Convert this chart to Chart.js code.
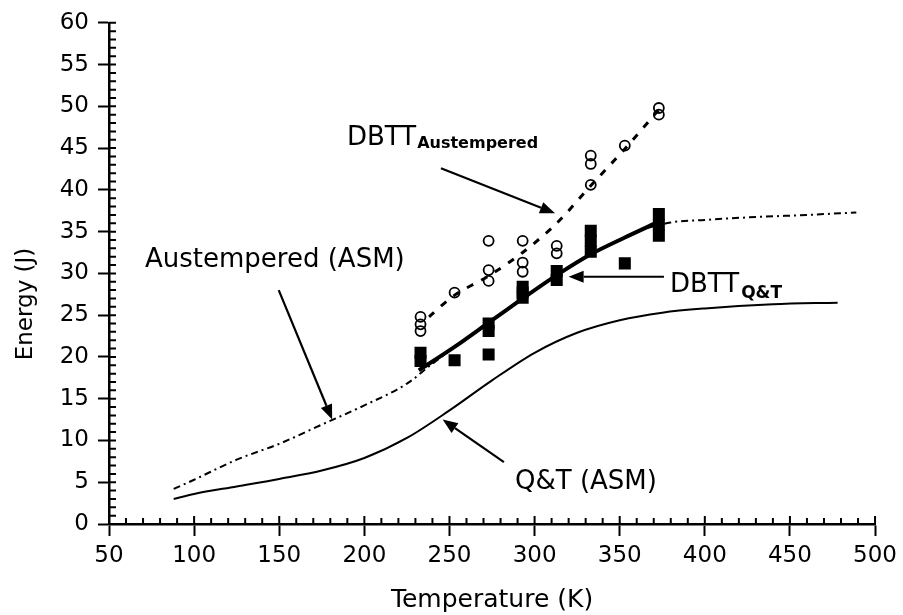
<!DOCTYPE html>
<html>
<head>
<meta charset="utf-8">
<script src="https://cdn.jsdelivr.net/npm/chart.js@4.4.1/dist/chart.umd.min.js"></script>
<style>
  html, body { margin: 0; padding: 0; background: #fff; }
  #wrap { width: 903px; height: 615px; }
</style>
</head>
<body>
<div id="wrap"><canvas id="chart" width="903" height="615"></canvas></div>
<script>
/* ===== Data ===== */
var qtAsmT = [88, 100, 125, 150, 175, 200, 225, 250, 275, 300, 325, 350, 375, 400, 440, 478];
var qtAsmE = [3.0, 3.6, 4.5, 5.4, 6.4, 7.9, 10.3, 13.6, 17.2, 20.5, 22.9, 24.4, 25.3, 25.8, 26.3, 26.5];

var austAsmT = [88, 100, 125, 150, 175, 200, 225, 240, 260, 280, 300, 320, 340, 360, 380, 400, 425, 460, 489];
var austAsmE = [4.2, 5.3, 7.7, 9.6, 11.9, 14.2, 16.8, 19.2, 22.2, 25.1, 28.0, 30.7, 33.0, 35.0, 36.1, 36.4, 36.7, 37.0, 37.3];

var dbttQtT = [232, 253, 273, 293, 313, 333, 353, 373];
var dbttQtE = [18.4, 21.2, 24.1, 27.0, 29.8, 32.3, 34.3, 36.2];

var dbttAustT = [238, 253, 273, 293, 313, 333, 353, 373];
var dbttAustE = [24.8, 27.4, 29.7, 32.5, 36.0, 40.5, 44.9, 49.6];

// austempered specimens (open circles)
var circleT = [233, 233, 233, 253, 273, 273, 273, 293, 293, 293, 313, 313, 333, 333, 333, 353, 373, 373];
var circleE = [24.8, 23.9, 23.1, 27.7, 33.9, 30.4, 29.1, 33.9, 31.3, 30.2, 33.3, 32.4, 44.1, 43.1, 40.6, 45.3, 49.8, 49.0];

// Q&T specimens (filled squares)
var squareT = [233, 233, 253, 273, 273, 273, 293, 293, 293, 313, 313, 333, 333, 333, 353, 373, 373, 373];
var squareE = [20.5, 19.5, 19.6, 24.0, 23.1, 20.3, 28.4, 27.7, 27.1, 30.3, 29.2, 35.1, 33.9, 32.6, 31.2, 37.1, 35.8, 34.5];

var xTitle = 'Temperature (K)';
var yTitle = 'Energy (J)';

var FONT = "'DejaVu Sans', Verdana, sans-serif";

function pts(t, e) {
    return t.map(function (v, i) { return { x: v, y: e[i] }; });
}

/* ===== Extra axis ticks, arrows and labels ===== */
var decorPlugin = {
    id: 'decor',
    afterDraw: function (chart) {
        var ctx = chart.ctx;
        var sx = chart.scales.x, sy = chart.scales.y;
        var t, e, px, py;

        ctx.save();
        ctx.strokeStyle = '#000';
        ctx.fillStyle = '#000';
        ctx.lineWidth = 2;

        // inner tick marks (minor every 10 K / 1 J, majors cross the axis)
        ctx.beginPath();
        for (t = 50; t <= 500; t += 10) {
            px = sx.getPixelForValue(t);
            ctx.moveTo(px, sy.bottom);
            ctx.lineTo(px, sy.bottom - (t % 50 === 0 ? 8 : 6));
        }
        for (e = 0; e <= 60; e += 1) {
            py = sy.getPixelForValue(e);
            ctx.moveTo(sx.left, py);
            ctx.lineTo(sx.left + 7, py);
        }
        ctx.stroke();

        // arrows: [fromT, fromE, toT, toE]
        var arrows = [
            [149.7, 28.0, 181.1, 12.5],
            [245.0, 42.6, 312.0, 37.2],
            [376.0, 29.6, 320.0, 29.6],
            [282.0, 7.4, 246.0, 12.5]
        ];
        arrows.forEach(function (a) {
            var x0 = sx.getPixelForValue(a[0]), y0 = sy.getPixelForValue(a[1]);
            var x1 = sx.getPixelForValue(a[2]), y1 = sy.getPixelForValue(a[3]);
            var ang = Math.atan2(y1 - y0, x1 - x0);
            var len = 15, hw = 6;
            var bx = x1 - len * Math.cos(ang), by = y1 - len * Math.sin(ang);
            ctx.beginPath();
            ctx.moveTo(x0, y0);
            ctx.lineTo(bx, by);
            ctx.lineWidth = 2.2;
            ctx.stroke();
            ctx.beginPath();
            ctx.moveTo(x1, y1);
            ctx.lineTo(bx + hw * Math.sin(ang), by - hw * Math.cos(ang));
            ctx.lineTo(bx - hw * Math.sin(ang), by + hw * Math.cos(ang));
            ctx.closePath();
            ctx.fill();
        });

        // annotation labels
        ctx.textBaseline = 'alphabetic';
        ctx.textAlign = 'left';
        ctx.font = '26px ' + FONT;
        ctx.fillText('DBTT', 347, 145);
        var w1 = ctx.measureText('DBTT').width;
        ctx.fillText('Austempered (ASM)', 145, 267);
        ctx.fillText('DBTT', 670, 292);
        var w2 = ctx.measureText('DBTT').width;
        ctx.fillText('Q&T (ASM)', 515, 489);
        ctx.font = 'bold 16px ' + FONT;
        ctx.fillText('Austempered', 347 + w1 + 1, 148);
        ctx.font = 'bold 17px ' + FONT;
        ctx.fillText('Q&T', 670 + w2 + 2, 298);

        // axis titles
        ctx.font = '25px ' + FONT;
        ctx.textAlign = 'center';
        ctx.fillText(xTitle, (sx.left + sx.right) / 2, 607);
        ctx.save();
        ctx.translate(26, 304);
        ctx.rotate(-Math.PI / 2);
        ctx.textBaseline = 'middle';
        ctx.font = '23px ' + FONT;
        ctx.fillText(yTitle, 0, 0);
        ctx.restore();

        ctx.restore();
    }
};

Chart.defaults.font.family = FONT;
Chart.defaults.color = '#000';

new Chart(document.getElementById('chart'), {
    type: 'scatter',
    data: {
        datasets: [
            {
                label: 'DBTT Q&T',
                data: pts(dbttQtT, dbttQtE),
                showLine: true,
                borderColor: '#000',
                borderWidth: 4,
                tension: 0.3,
                pointRadius: 0
            },
            {
                label: 'DBTT Austempered',
                data: pts(dbttAustT, dbttAustE),
                showLine: true,
                borderColor: '#000',
                borderWidth: 3,
                borderDash: [7, 9],
                tension: 0.3,
                pointRadius: 0
            },
            {
                label: 'Austempered',
                data: pts(circleT, circleE),
                pointStyle: 'circle',
                pointRadius: 5,
                borderWidth: 1.8,
                borderColor: '#000',
                backgroundColor: 'rgba(0,0,0,0)'
            },
            {
                label: 'Q&T',
                data: pts(squareT, squareE),
                pointStyle: 'rect',
                pointRadius: 8.5,
                borderWidth: 0,
                borderColor: '#000',
                backgroundColor: '#000'
            },
            {
                label: 'Austempered (ASM)',
                data: pts(austAsmT, austAsmE),
                showLine: true,
                borderColor: '#000',
                borderWidth: 2,
                borderDash: [7, 4, 2, 4],
                cubicInterpolationMode: 'monotone',
                pointRadius: 0
            },
            {
                label: 'Q&T (ASM)',
                data: pts(qtAsmT, qtAsmE),
                showLine: true,
                borderColor: '#000',
                borderWidth: 2,
                cubicInterpolationMode: 'monotone',
                pointRadius: 0
            }
        ]
    },
    options: {
        responsive: false,
        animation: false,
        layout: { padding: { left: 0, right: 24, top: 20, bottom: 0 } },
        plugins: {
            legend: { display: false },
            tooltip: { enabled: false }
        },
        scales: {
            x: {
                type: 'linear',
                min: 50,
                max: 500,
                ticks: { stepSize: 50, font: { size: 23 }, color: '#000', padding: 6, maxRotation: 0 },
                grid: { drawOnChartArea: false, drawTicks: true, tickLength: 12, tickColor: '#000', tickWidth: 2 },
                border: { display: true, color: '#000', width: 2.5 },
                afterFit: function (s) { s.height = 91; }
            },
            y: {
                type: 'linear',
                min: 0,
                max: 60,
                ticks: { stepSize: 5, font: { size: 23 }, color: '#000', padding: 9 },
                grid: { drawOnChartArea: false, drawTicks: true, tickLength: 11, tickColor: '#000', tickWidth: 2 },
                border: { display: true, color: '#000', width: 2.5 },
                afterFit: function (s) { s.width = 109; }
            }
        }
    },
    plugins: [decorPlugin]
});
</script>
</body>
</html>
